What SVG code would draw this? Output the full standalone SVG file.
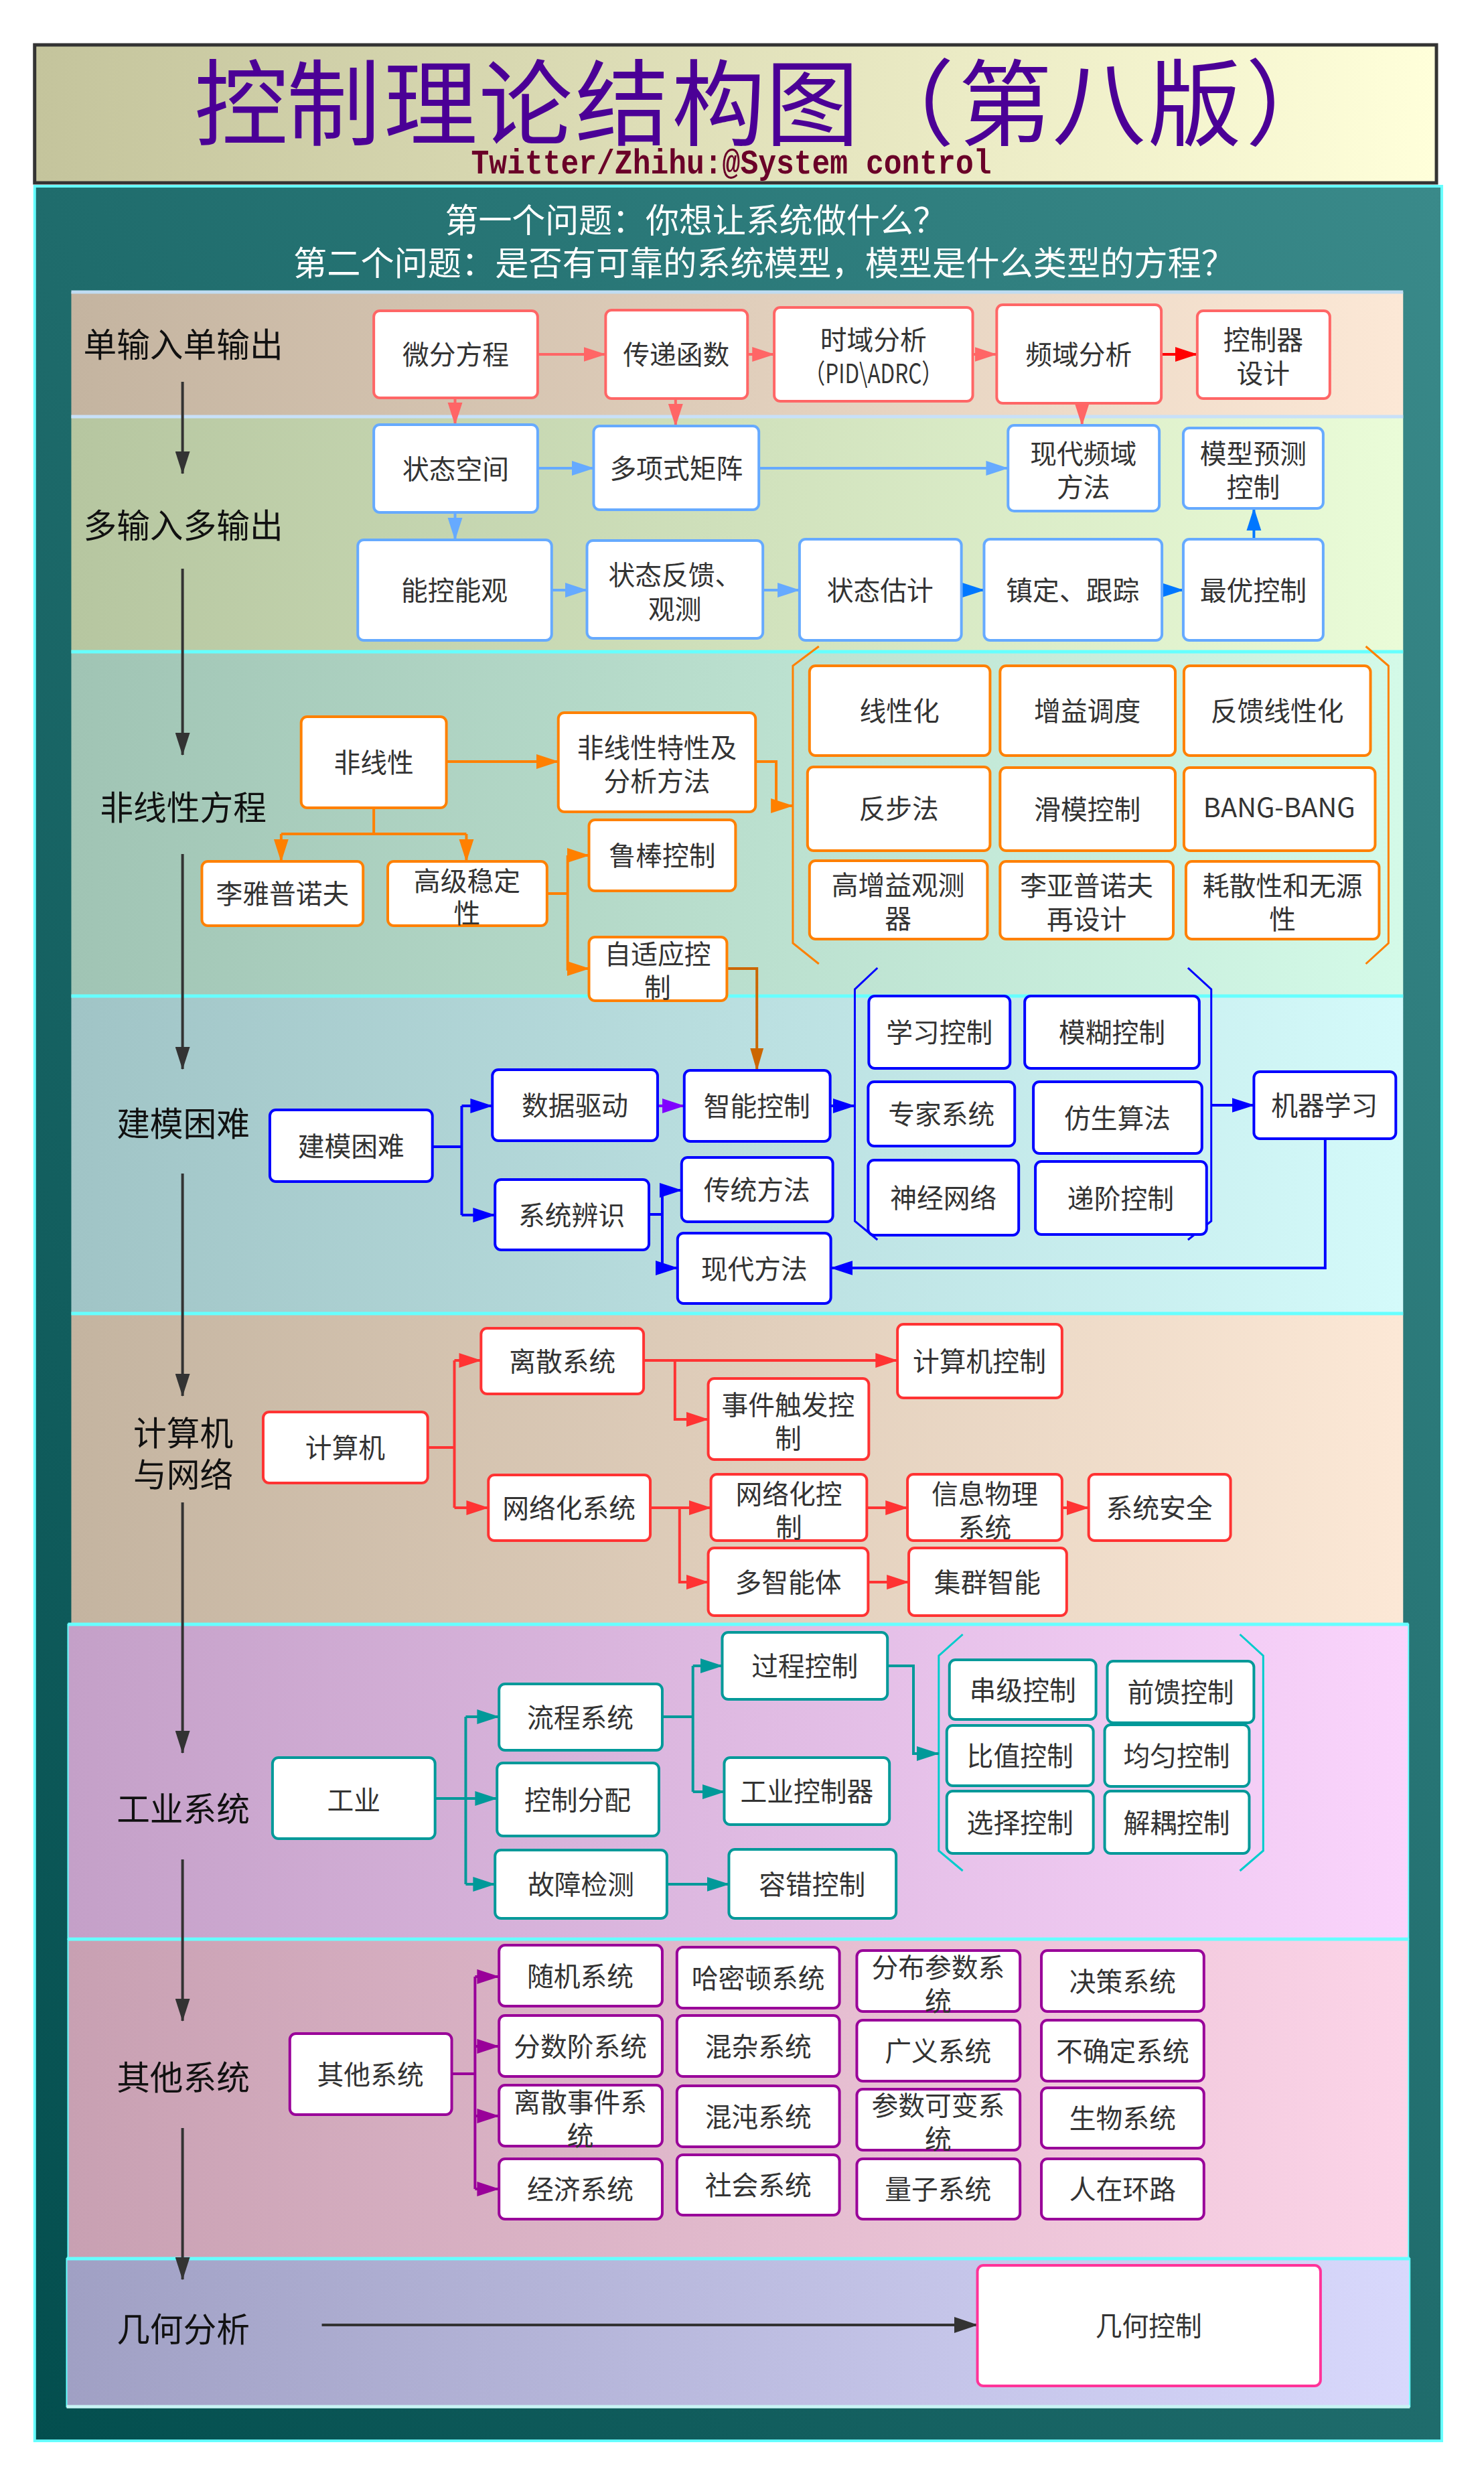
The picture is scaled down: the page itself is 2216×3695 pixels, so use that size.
<svg xmlns="http://www.w3.org/2000/svg" width="2216" height="3695" viewBox="0 0 2216 3695">
<defs>
<linearGradient id="gTitle" x1="0" y1="0" x2="1" y2="0"><stop offset="0" stop-color="#c4c49c"/><stop offset="1" stop-color="#ffffda"/></linearGradient>
<linearGradient id="gPanel" x1="1" y1="0" x2="0" y2="1"><stop offset="0" stop-color="#3a8a8a"/><stop offset="0.5" stop-color="#1f6c6c"/><stop offset="1" stop-color="#034e4e"/></linearGradient>
<linearGradient id="g1" x1="0" y1="0" x2="1" y2="0"><stop offset="0" stop-color="#c4b4a0"/><stop offset="1" stop-color="#fce8d6"/></linearGradient>
<linearGradient id="g2" x1="0" y1="0" x2="1" y2="0"><stop offset="0" stop-color="#b6c6a0"/><stop offset="1" stop-color="#eafcd8"/></linearGradient>
<linearGradient id="g3" x1="0" y1="0" x2="1" y2="0"><stop offset="0" stop-color="#a0c4b4"/><stop offset="1" stop-color="#d4fae8"/></linearGradient>
<linearGradient id="g4" x1="0" y1="0" x2="1" y2="0"><stop offset="0" stop-color="#a0c4c6"/><stop offset="1" stop-color="#d4fafa"/></linearGradient>
<linearGradient id="g6" x1="0" y1="0" x2="1" y2="0"><stop offset="0" stop-color="#c4a0c8"/><stop offset="1" stop-color="#fad4fc"/></linearGradient>
<linearGradient id="g7" x1="0" y1="0" x2="1" y2="0"><stop offset="0" stop-color="#c8a0b2"/><stop offset="1" stop-color="#fcd4e8"/></linearGradient>
<linearGradient id="g8" x1="0" y1="0" x2="1" y2="0"><stop offset="0" stop-color="#a0a0c4"/><stop offset="1" stop-color="#d8d8fc"/></linearGradient>
<marker id="mk" markerUnits="userSpaceOnUse" markerWidth="34" markerHeight="22" viewBox="0 0 34 22" refX="33" refY="11" orient="auto"><path d="M0,0 L34,11 L0,22 z" fill="#333"/></marker>
<marker id="ms" markerUnits="userSpaceOnUse" markerWidth="34" markerHeight="24" viewBox="0 0 34 24" refX="33" refY="12" orient="auto"><path d="M0,1 L34,12 L0,23 z" fill="#ff6666"/></marker>
<marker id="mr" markerUnits="userSpaceOnUse" markerWidth="34" markerHeight="24" viewBox="0 0 34 24" refX="33" refY="12" orient="auto"><path d="M0,1 L34,12 L0,23 z" fill="#ff0000"/></marker>
<marker id="ml" markerUnits="userSpaceOnUse" markerWidth="34" markerHeight="24" viewBox="0 0 34 24" refX="33" refY="12" orient="auto"><path d="M0,1 L34,12 L0,23 z" fill="#66aaff"/></marker>
<marker id="mb2" markerUnits="userSpaceOnUse" markerWidth="34" markerHeight="24" viewBox="0 0 34 24" refX="33" refY="12" orient="auto"><path d="M0,1 L34,12 L0,23 z" fill="#0077ff"/></marker>
<marker id="mo" markerUnits="userSpaceOnUse" markerWidth="34" markerHeight="24" viewBox="0 0 34 24" refX="33" refY="12" orient="auto"><path d="M0,1 L34,12 L0,23 z" fill="#ff8000"/></marker>
<marker id="mdo" markerUnits="userSpaceOnUse" markerWidth="34" markerHeight="24" viewBox="0 0 34 24" refX="33" refY="12" orient="auto"><path d="M0,2 L34,12 L0,22 z" fill="#cc6600"/></marker>
<marker id="mb" markerUnits="userSpaceOnUse" markerWidth="34" markerHeight="24" viewBox="0 0 34 24" refX="33" refY="12" orient="auto"><path d="M0,1 L34,12 L0,23 z" fill="#0000ff"/></marker>
<marker id="mp" markerUnits="userSpaceOnUse" markerWidth="34" markerHeight="24" viewBox="0 0 34 24" refX="33" refY="12" orient="auto"><path d="M0,1 L34,12 L0,23 z" fill="#8000ff"/></marker>
<marker id="mrd" markerUnits="userSpaceOnUse" markerWidth="34" markerHeight="24" viewBox="0 0 34 24" refX="33" refY="12" orient="auto"><path d="M0,1 L34,12 L0,23 z" fill="#ff3333"/></marker>
<marker id="mt" markerUnits="userSpaceOnUse" markerWidth="34" markerHeight="24" viewBox="0 0 34 24" refX="33" refY="12" orient="auto"><path d="M0,1 L34,12 L0,23 z" fill="#009999"/></marker>
<marker id="mpu" markerUnits="userSpaceOnUse" markerWidth="34" markerHeight="24" viewBox="0 0 34 24" refX="33" refY="12" orient="auto"><path d="M0,1 L34,12 L0,23 z" fill="#990099"/></marker>
<marker id="mk2" markerUnits="userSpaceOnUse" markerWidth="36" markerHeight="24" viewBox="0 0 36 24" refX="35" refY="12" orient="auto"><path d="M0,0 L36,12 L0,24 z" fill="#333"/></marker>
</defs>
<style>
text{font-family:"Noto Sans CJK SC","Noto Sans",sans-serif}
text.mono{font-family:"Liberation Mono","DejaVu Sans Mono",monospace}
.nd rect{fill:#ffffff;stroke-width:4}
.s1 rect{stroke:#ff6666}
.s2 rect{stroke:#66aaff}
.s3 rect{stroke:#ff8000}
.s4 rect{stroke:#0000ff}
.s5 rect{stroke:#ff3333}
.s6 rect{stroke:#009999}
.s7 rect{stroke:#990099}
.s8 rect{stroke:#ff3399}
.nt{font-size:40px;fill:#333;text-anchor:middle}
.lb{font-size:50px;fill:#111;text-anchor:middle}
.c path{fill:none;stroke-width:4}
.sep{stroke-width:5}
.br{fill:none;stroke-width:3}
.tt{font-size:140px;fill:#4b0096;text-anchor:middle}
</style>
<rect width="2216" height="3695" fill="#ffffff"/>
<g transform="matrix(0.9949 0 0 1 0 0)">
<g id="title-box">
<rect x="52" y="67" width="2104" height="206" fill="url(#gTitle)" stroke="#333" stroke-width="5"/>
</g>
<rect id="panel" x="52" y="278" width="2112" height="3366" fill="url(#gPanel)" stroke="#66ffff" stroke-width="4"/>
<g id="sections">
<rect x="107" y="436" width="1999" height="186" fill="url(#g1)"/>
<rect x="107" y="622" width="1999" height="351" fill="url(#g2)"/>
<rect x="107" y="973" width="1999" height="514" fill="url(#g3)"/>
<rect x="107" y="1487" width="1999" height="474" fill="url(#g4)"/>
<rect x="107" y="1961" width="1999" height="464" fill="url(#g1)"/>
<rect x="102" y="2425" width="2012" height="470" fill="url(#g6)" stroke="#66ffff" stroke-width="2"/>
<rect x="102" y="2895" width="2012" height="477" fill="url(#g7)" stroke="#66ffff" stroke-width="2"/>
<rect x="100" y="3372" width="2016" height="221" fill="url(#g8)" stroke="#66ffff" stroke-width="2"/>
<path class="sep" d="M107,436 H2106" stroke="#c0dcf2"/>
<path class="sep" d="M107,622 H2106" stroke="#c8e0f8"/>
<path class="sep" d="M107,973 H2106" stroke="#66ffff"/>
<path class="sep" d="M107,1487 H2106" stroke="#66ffff"/>
<path class="sep" d="M107,1961 H2106" stroke="#66ffff"/>
<path class="sep" d="M102,2425 H2114" stroke="#66ffff" stroke-width="6"/>
<path class="sep" d="M102,2895 H2114" stroke="#66ffff"/>
<path class="sep" d="M100,3372 H2116" stroke="#66ffff"/>
<path class="sep" d="M100,3593 H2116" stroke="#c8f4f4"/>
</g>
<g id="braces">
<path class="br" stroke="#ff8000" d="M1229,965 L1190,994 V1408 L1229,1439"/>
<path class="br" stroke="#ff8000" d="M2050,965 L2084,994 V1408 L2050,1439"/>
<path class="br" stroke="#0000ff" d="M1317,1445 L1283,1477 V1823 L1317,1851"/>
<path class="br" stroke="#0000ff" d="M1783,1445 L1818,1477 V1823 L1783,1851"/>
<path class="br" stroke="#00cccc" d="M1445,2440 L1409,2472 V2763 L1445,2793"/>
<path class="br" stroke="#00cccc" d="M1861,2440 L1896,2472 V2763 L1861,2793"/>
</g>
<g id="connectors" class="c">
<g stroke="#333" stroke-width="3.5">
<path d="M274,570 V707" marker-end="url(#mk)"/>
<path d="M274,849 V1127" marker-end="url(#mk)"/>
<path d="M274,1275 V1596" marker-end="url(#mk)"/>
<path d="M274,1752 V2084" marker-end="url(#mk)"/>
<path d="M274,2243 V2617" marker-end="url(#mk)"/>
<path d="M274,2776 V3017" marker-end="url(#mk)"/>
<path d="M274,3177 V3403" marker-end="url(#mk)"/>
</g>
<g stroke="#ff6666">
<path d="M807,529 H909" marker-end="url(#ms)"/>
<path d="M1122,529 H1162" marker-end="url(#ms)"/>
<path d="M1460,529 H1496" marker-end="url(#ms)"/>
<path d="M683,594 V634" marker-end="url(#ms)"/>
<path d="M1014,595 V636" marker-end="url(#ms)"/>
<path d="M1624,602 V635" marker-end="url(#ms)"/>
</g>
<path d="M1743,529 H1797" stroke="#ff0000" marker-end="url(#mr)"/>
<g stroke="#66aaff">
<path d="M807,699 H891" marker-end="url(#ml)"/>
<path d="M1139,699 H1513" marker-end="url(#ml)"/>
<path d="M683,765 V806" marker-end="url(#ml)"/>
<path d="M828,881 H881" marker-end="url(#ml)"/>
<path d="M1145,881 H1200" marker-end="url(#ml)"/>
</g>
<g stroke="#0077ff">
<path d="M1443,881 H1477" marker-end="url(#mb2)"/>
<path d="M1744,881 H1776" marker-end="url(#mb2)"/>
<path d="M1882,805 V759" stroke-width="3" marker-end="url(#mb2)"/>
</g>
<g stroke="#ff8000">
<path d="M670,1137 H838" marker-end="url(#mo)"/>
<path d="M1134,1137 H1165 V1203 H1190" stroke-width="3" marker-end="url(#mo)"/>
<path d="M561,1206 V1245" stroke-width="3"/>
<path d="M422,1245 H700"/>
<path d="M422,1245 V1286" stroke-width="3" marker-end="url(#mo)"/>
<path d="M700,1245 V1286" stroke-width="3" marker-end="url(#mo)"/>
<path d="M821,1334 H852"/>
<path d="M852,1277 V1449" stroke-width="3"/>
<path d="M852,1277 H884" stroke-width="3" marker-end="url(#mo)"/>
<path d="M852,1446 H884" stroke-width="3" marker-end="url(#mo)"/>
</g>
<path d="M1091,1446 H1136 V1598" stroke="#cc6600" stroke-width="3" marker-end="url(#mdo)"/>
<g stroke="#0000ff">
<path d="M649,1712 H693"/>
<path d="M693,1651 V1814" stroke-width="3"/>
<path d="M693,1651 H739" marker-end="url(#mb)"/>
<path d="M693,1814 H743" marker-end="url(#mb)"/>
<path d="M1246,1651 H1283" marker-end="url(#mb)"/>
<path d="M1818,1650 H1882" marker-end="url(#mb)"/>
<path d="M974,1813 H994"/>
<path d="M994,1777 V1893" stroke-width="3"/>
<path d="M994,1777 H1023" marker-end="url(#mb)"/>
<path d="M994,1893 H1017" marker-end="url(#mb)"/>
<path d="M1989,1700 V1893 H1247" marker-end="url(#mb)"/>
</g>
<path d="M987,1651 H1027" stroke="#8000ff" marker-end="url(#mp)"/>
<g stroke="#ff3333">
<path d="M642,2161 H682"/>
<path d="M682,2031 V2251" stroke-width="3"/>
<path d="M682,2031 H722" marker-end="url(#mrd)"/>
<path d="M682,2251 H733" marker-end="url(#mrd)"/>
<path d="M966,2031 H1347" marker-end="url(#mrd)"/>
<path d="M1013,2031 V2119 H1063" stroke-width="3" marker-end="url(#mrd)"/>
<path d="M976,2251 H1067" marker-end="url(#mrd)"/>
<path d="M1020,2251 V2362 H1063" stroke-width="3" marker-end="url(#mrd)"/>
<path d="M1301,2251 H1362" marker-end="url(#mrd)"/>
<path d="M1594,2251 H1634" marker-end="url(#mrd)"/>
<path d="M1303,2362 H1364" marker-end="url(#mrd)"/>
</g>
<g stroke="#009999">
<path d="M653,2685 H746" marker-end="url(#mt)"/>
<path d="M699,2563 V2813" stroke-width="3"/>
<path d="M699,2563 H749" marker-end="url(#mt)"/>
<path d="M699,2813 H743" marker-end="url(#mt)"/>
<path d="M994,2563 H1040"/>
<path d="M1040,2487 V2675" stroke-width="3"/>
<path d="M1040,2487 H1084" marker-end="url(#mt)"/>
<path d="M1040,2675 H1087" marker-end="url(#mt)"/>
<path d="M1332,2487 H1371 V2618 H1409" marker-end="url(#mt)"/>
<path d="M1001,2813 H1094" marker-end="url(#mt)"/>
</g>
<g stroke="#990099">
<path d="M678,3096 H713"/>
<path d="M713,2951 V3268" stroke-width="3"/>
<path d="M713,2951 H749" marker-end="url(#mpu)"/>
<path d="M713,3055 H749" marker-end="url(#mpu)"/>
<path d="M713,3159 H749" marker-end="url(#mpu)"/>
<path d="M713,3268 H749" marker-end="url(#mpu)"/>
</g>
<path d="M483,3471 H1467" stroke="#333" stroke-width="5" marker-end="url(#mk2)"/>
</g>
<g id="labels">
<text class="lb" x="275" y="533">单输入单输出</text>
<text class="lb" x="275" y="803">多输入多输出</text>
<text class="lb" x="275" y="1224">非线性方程</text>
<text class="lb" x="275" y="1696">建模困难</text>
<text class="lb" x="275" y="2158">计算机</text>
<text class="lb" x="275" y="2220">与网络</text>
<text class="lb" x="275" y="2719">工业系统</text>
<text class="lb" x="275" y="3120">其他系统</text>
<text class="lb" x="275" y="3496">几何分析</text>
</g>
<g id="n-weifen" class="nd s1"><rect x="561" y="464" width="246" height="130" rx="9"/><text class="nt" x="684" y="544">微分方程</text></g>
<g id="n-chuandi" class="nd s1"><rect x="909" y="463" width="213" height="132" rx="9"/><text class="nt" x="1015" y="544">传递函数</text></g>
<g id="n-shiyu" class="nd s1"><rect x="1162" y="459" width="298" height="140" rx="9"/><text class="nt" x="1311" y="522">时域分析</text><text class="nt" x="1311" y="572" font-size="36" textLength="208" lengthAdjust="spacingAndGlyphs">（PID\ADRC）</text></g>
<g id="n-pinyu" class="nd s1"><rect x="1496" y="455" width="247" height="147" rx="9"/><text class="nt" x="1619" y="544">频域分析</text></g>
<g id="n-kongzhiqi" class="nd s1"><rect x="1797" y="464" width="199" height="131" rx="9"/><text class="nt" x="1896" y="522">控制器</text><text class="nt" x="1896" y="572">设计</text></g>
<g id="n-zhuangtai" class="nd s2"><rect x="561" y="634" width="246" height="131" rx="9"/><text class="nt" x="684" y="715">状态空间</text></g>
<g id="n-duoxiang" class="nd s2"><rect x="891" y="636" width="248" height="125" rx="9"/><text class="nt" x="1015" y="714">多项式矩阵</text></g>
<g id="n-xdpinyu" class="nd s2"><rect x="1513" y="635" width="227" height="128" rx="9"/><text class="nt" x="1626" y="692">现代频域</text><text class="nt" x="1626" y="742">方法</text></g>
<g id="n-moxing" class="nd s2"><rect x="1776" y="639" width="210" height="120" rx="9"/><text class="nt" x="1881" y="692">模型预测</text><text class="nt" x="1881" y="742">控制</text></g>
<g id="n-nengkong" class="nd s2"><rect x="537" y="806" width="291" height="150" rx="9"/><text class="nt" x="682" y="896">能控能观</text></g>
<g id="n-fankui" class="nd s2"><rect x="881" y="807" width="264" height="146" rx="9"/><text class="nt" x="1013" y="873">状态反馈、</text><text class="nt" x="1013" y="924">观测</text></g>
<g id="n-guji" class="nd s2"><rect x="1200" y="805" width="243" height="151" rx="9"/><text class="nt" x="1321" y="896">状态估计</text></g>
<g id="n-zhending" class="nd s2"><rect x="1477" y="805" width="267" height="151" rx="9"/><text class="nt" x="1610" y="896">镇定、跟踪</text></g>
<g id="n-zuiyou" class="nd s2"><rect x="1776" y="805" width="210" height="151" rx="9"/><text class="nt" x="1881" y="896">最优控制</text></g>
<g id="n-feixianxing" class="nd s3"><rect x="452" y="1070" width="218" height="136" rx="9"/><text class="nt" x="561" y="1153">非线性</text></g>
<g id="n-texing" class="nd s3"><rect x="838" y="1064" width="296" height="148" rx="9"/><text class="nt" x="986" y="1131">非线性特性及</text><text class="nt" x="986" y="1181">分析方法</text></g>
<g id="n-liyanuo" class="nd s3"><rect x="303" y="1286" width="242" height="96" rx="9"/><text class="nt" x="424" y="1349">李雅普诺夫</text></g>
<g id="n-gaoji" class="nd s3"><rect x="582" y="1286" width="239" height="96" rx="9"/><text class="nt" x="701" y="1330">高级稳定</text><text class="nt" x="701" y="1378">性</text></g>
<g id="n-lubang" class="nd s3"><rect x="884" y="1224" width="220" height="106" rx="9"/><text class="nt" x="994" y="1292">鲁棒控制</text></g>
<g id="n-zishiying" class="nd s3"><rect x="884" y="1399" width="207" height="95" rx="9"/><text class="nt" x="987" y="1439">自适应控</text><text class="nt" x="987" y="1489">制</text></g>
<g id="n-xianxinghua" class="nd s3"><rect x="1215" y="994" width="271" height="134" rx="9"/><text class="nt" x="1350" y="1076">线性化</text></g>
<g id="n-zengyi" class="nd s3"><rect x="1501" y="994" width="263" height="134" rx="9"/><text class="nt" x="1632" y="1076">增益调度</text></g>
<g id="n-fankuixx" class="nd s3"><rect x="1777" y="994" width="280" height="134" rx="9"/><text class="nt" x="1917" y="1076">反馈线性化</text></g>
<g id="n-fanbu" class="nd s3"><rect x="1212" y="1145" width="274" height="125" rx="9"/><text class="nt" x="1349" y="1222">反步法</text></g>
<g id="n-huamo" class="nd s3"><rect x="1501" y="1146" width="263" height="124" rx="9"/><text class="nt" x="1632" y="1223">滑模控制</text></g>
<g id="n-bang" class="nd s3"><rect x="1777" y="1146" width="287" height="124" rx="9"/><text class="nt" x="1920" y="1220" font-size="34">BANG-BANG</text></g>
<g id="n-gaozengyi" class="nd s3"><rect x="1215" y="1285" width="267" height="117" rx="9"/><text class="nt" x="1348" y="1336">高增益观测</text><text class="nt" x="1348" y="1386">器</text></g>
<g id="n-liyapu" class="nd s3"><rect x="1501" y="1286" width="260" height="116" rx="9"/><text class="nt" x="1631" y="1337">李亚普诺夫</text><text class="nt" x="1631" y="1387">再设计</text></g>
<g id="n-haosan" class="nd s3"><rect x="1780" y="1286" width="290" height="116" rx="9"/><text class="nt" x="1925" y="1337">耗散性和无源</text><text class="nt" x="1925" y="1387">性</text></g>
<g id="n-jianmo" class="nd s4"><rect x="405" y="1657" width="244" height="107" rx="9"/><text class="nt" x="527" y="1726">建模困难</text></g>
<g id="n-shuju" class="nd s4"><rect x="739" y="1597" width="248" height="106" rx="9"/><text class="nt" x="863" y="1665">数据驱动</text></g>
<g id="n-zhineng" class="nd s4"><rect x="1027" y="1598" width="219" height="106" rx="9"/><text class="nt" x="1136" y="1666">智能控制</text></g>
<g id="n-bianshi" class="nd s4"><rect x="743" y="1761" width="231" height="105" rx="9"/><text class="nt" x="858" y="1829">系统辨识</text></g>
<g id="n-chuantong" class="nd s4"><rect x="1023" y="1728" width="227" height="96" rx="9"/><text class="nt" x="1136" y="1791">传统方法</text></g>
<g id="n-xiandai" class="nd s4"><rect x="1017" y="1841" width="230" height="105" rx="9"/><text class="nt" x="1132" y="1909">现代方法</text></g>
<g id="n-xuexi" class="nd s4"><rect x="1304" y="1487" width="212" height="108" rx="9"/><text class="nt" x="1410" y="1556">学习控制</text></g>
<g id="n-mohu" class="nd s4"><rect x="1538" y="1487" width="262" height="108" rx="9"/><text class="nt" x="1669" y="1556">模糊控制</text></g>
<g id="n-zhuanjia" class="nd s4"><rect x="1303" y="1615" width="220" height="96" rx="9"/><text class="nt" x="1413" y="1678">专家系统</text></g>
<g id="n-fangsheng" class="nd s4"><rect x="1551" y="1615" width="253" height="107" rx="9"/><text class="nt" x="1677" y="1684">仿生算法</text></g>
<g id="n-shenjing" class="nd s4"><rect x="1303" y="1732" width="226" height="112" rx="9"/><text class="nt" x="1416" y="1803">神经网络</text></g>
<g id="n-dijie" class="nd s4"><rect x="1554" y="1734" width="257" height="109" rx="9"/><text class="nt" x="1682" y="1804">递阶控制</text></g>
<g id="n-jiqi" class="nd s4"><rect x="1882" y="1600" width="213" height="100" rx="9"/><text class="nt" x="1988" y="1665">机器学习</text></g>
<g id="n-jisuanji" class="nd s5"><rect x="395" y="2108" width="247" height="106" rx="9"/><text class="nt" x="518" y="2176">计算机</text></g>
<g id="n-lisan" class="nd s5"><rect x="722" y="1983" width="244" height="98" rx="9"/><text class="nt" x="844" y="2047">离散系统</text></g>
<g id="n-jsjkz" class="nd s5"><rect x="1347" y="1977" width="247" height="110" rx="9"/><text class="nt" x="1470" y="2047">计算机控制</text></g>
<g id="n-shijian" class="nd s5"><rect x="1063" y="2058" width="241" height="121" rx="9"/><text class="nt" x="1183" y="2112">事件触发控</text><text class="nt" x="1183" y="2162">制</text></g>
<g id="n-wangluo" class="nd s5"><rect x="733" y="2202" width="243" height="98" rx="9"/><text class="nt" x="854" y="2266">网络化系统</text></g>
<g id="n-wlkz" class="nd s5"><rect x="1067" y="2201" width="234" height="99" rx="9"/><text class="nt" x="1184" y="2245">网络化控</text><text class="nt" x="1184" y="2295">制</text></g>
<g id="n-xinxi" class="nd s5"><rect x="1362" y="2201" width="232" height="99" rx="9"/><text class="nt" x="1478" y="2245">信息物理</text><text class="nt" x="1478" y="2295">系统</text></g>
<g id="n-anquan" class="nd s5"><rect x="1634" y="2201" width="213" height="99" rx="9"/><text class="nt" x="1740" y="2266">系统安全</text></g>
<g id="n-duozhi" class="nd s5"><rect x="1063" y="2311" width="240" height="101" rx="9"/><text class="nt" x="1183" y="2377">多智能体</text></g>
<g id="n-jiqun" class="nd s5"><rect x="1364" y="2311" width="237" height="101" rx="9"/><text class="nt" x="1482" y="2377">集群智能</text></g>
<g id="n-gongye" class="nd s6"><rect x="409" y="2624" width="244" height="121" rx="9"/><text class="nt" x="531" y="2702">工业</text></g>
<g id="n-liucheng" class="nd s6"><rect x="749" y="2514" width="245" height="99" rx="9"/><text class="nt" x="871" y="2579">流程系统</text></g>
<g id="n-fenpei" class="nd s6"><rect x="746" y="2632" width="243" height="109" rx="9"/><text class="nt" x="867" y="2702">控制分配</text></g>
<g id="n-guzhang" class="nd s6"><rect x="743" y="2762" width="258" height="102" rx="9"/><text class="nt" x="872" y="2828">故障检测</text></g>
<g id="n-guocheng" class="nd s6"><rect x="1084" y="2437" width="248" height="100" rx="9"/><text class="nt" x="1208" y="2502">过程控制</text></g>
<g id="n-gykzq" class="nd s6"><rect x="1087" y="2624" width="248" height="100" rx="9"/><text class="nt" x="1211" y="2689">工业控制器</text></g>
<g id="n-rongcuo" class="nd s6"><rect x="1094" y="2761" width="251" height="103" rx="9"/><text class="nt" x="1219" y="2828">容错控制</text></g>
<g id="n-chuanji" class="nd s6"><rect x="1425" y="2478" width="220" height="89" rx="9"/><text class="nt" x="1535" y="2538">串级控制</text></g>
<g id="n-qiankui" class="nd s6"><rect x="1662" y="2480" width="220" height="92" rx="9"/><text class="nt" x="1772" y="2541">前馈控制</text></g>
<g id="n-bizhi" class="nd s6"><rect x="1421" y="2576" width="220" height="90" rx="9"/><text class="nt" x="1531" y="2636">比值控制</text></g>
<g id="n-junyun" class="nd s6"><rect x="1658" y="2575" width="217" height="92" rx="9"/><text class="nt" x="1766" y="2636">均匀控制</text></g>
<g id="n-xuanze" class="nd s6"><rect x="1421" y="2674" width="220" height="93" rx="9"/><text class="nt" x="1531" y="2736">选择控制</text></g>
<g id="n-jieou" class="nd s6"><rect x="1658" y="2674" width="217" height="93" rx="9"/><text class="nt" x="1766" y="2736">解耦控制</text></g>
<g id="n-qita" class="nd s7"><rect x="435" y="3036" width="243" height="121" rx="9"/><text class="nt" x="556" y="3112">其他系统</text></g>
<g id="n-suiji" class="nd s7"><rect x="749" y="2904" width="245" height="91" rx="9"/><text class="nt" x="871" y="2965">随机系统</text></g>
<g id="n-fenshu" class="nd s7"><rect x="749" y="3009" width="245" height="91" rx="9"/><text class="nt" x="871" y="3070">分数阶系统</text></g>
<g id="n-lisanshijian" class="nd s7"><rect x="749" y="3113" width="245" height="91" rx="9"/><text class="nt" x="871" y="3153">离散事件系</text><text class="nt" x="871" y="3203">统</text></g>
<g id="n-jingji" class="nd s7"><rect x="749" y="3223" width="245" height="90" rx="9"/><text class="nt" x="871" y="3283">经济系统</text></g>
<g id="n-hamidun" class="nd s7"><rect x="1016" y="2907" width="244" height="91" rx="9"/><text class="nt" x="1138" y="2968">哈密顿系统</text></g>
<g id="n-hunza" class="nd s7"><rect x="1016" y="3009" width="244" height="91" rx="9"/><text class="nt" x="1138" y="3070">混杂系统</text></g>
<g id="n-hundun" class="nd s7"><rect x="1016" y="3114" width="244" height="91" rx="9"/><text class="nt" x="1138" y="3175">混沌系统</text></g>
<g id="n-shehui" class="nd s7"><rect x="1016" y="3217" width="244" height="90" rx="9"/><text class="nt" x="1138" y="3277">社会系统</text></g>
<g id="n-fenbu" class="nd s7"><rect x="1286" y="2912" width="245" height="91" rx="9"/><text class="nt" x="1408" y="2952">分布参数系</text><text class="nt" x="1408" y="3002">统</text></g>
<g id="n-guangyi" class="nd s7"><rect x="1286" y="3016" width="245" height="91" rx="9"/><text class="nt" x="1408" y="3077">广义系统</text></g>
<g id="n-canshu" class="nd s7"><rect x="1286" y="3119" width="245" height="91" rx="9"/><text class="nt" x="1408" y="3158">参数可变系</text><text class="nt" x="1408" y="3208">统</text></g>
<g id="n-liangzi" class="nd s7"><rect x="1286" y="3223" width="245" height="90" rx="9"/><text class="nt" x="1408" y="3283">量子系统</text></g>
<g id="n-juece" class="nd s7"><rect x="1563" y="2912" width="244" height="91" rx="9"/><text class="nt" x="1685" y="2973">决策系统</text></g>
<g id="n-buqueding" class="nd s7"><rect x="1563" y="3016" width="244" height="91" rx="9"/><text class="nt" x="1685" y="3077">不确定系统</text></g>
<g id="n-shengwu" class="nd s7"><rect x="1563" y="3117" width="244" height="90" rx="9"/><text class="nt" x="1685" y="3177">生物系统</text></g>
<g id="n-renzai" class="nd s7"><rect x="1563" y="3223" width="244" height="90" rx="9"/><text class="nt" x="1685" y="3283">人在环路</text></g>
<g id="n-jihe" class="nd s8"><rect x="1467" y="3382" width="515" height="180" rx="9"/><text class="nt" x="1724" y="3487">几何控制</text></g>
</g>
<g id="title-text">
<text class="tt" y="206"><tspan x="360">控</tspan><tspan x="498">制</tspan><tspan x="643">理</tspan><tspan x="785">论</tspan><tspan x="929">结</tspan><tspan x="1073">构</tspan><tspan x="1213">图</tspan><tspan x="1355">（</tspan><tspan x="1501">第</tspan><tspan x="1641">八</tspan><tspan x="1784">版</tspan><tspan x="1930">）</tspan></text>
<text class="mono" x="1092" y="259" font-size="52" font-weight="bold" fill="#6a0028" text-anchor="middle" textLength="777" lengthAdjust="spacingAndGlyphs">Twitter/Zhihu:@System control</text>
<text x="1039" y="347" font-size="50" fill="#ffffff" text-anchor="middle" textLength="749" lengthAdjust="spacingAndGlyphs">第一个问题：你想让系统做什么？</text>
<text x="1141" y="411" font-size="50" fill="#ffffff" text-anchor="middle" textLength="1406" lengthAdjust="spacingAndGlyphs">第二个问题：是否有可靠的系统模型，模型是什么类型的方程？</text>
</g>
</svg>
